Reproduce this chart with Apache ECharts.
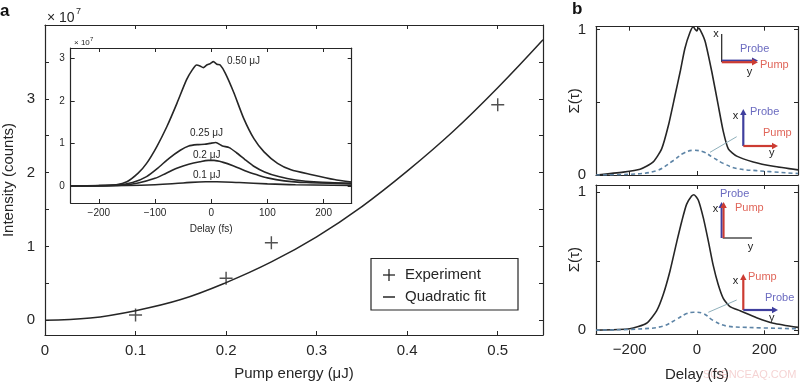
<!DOCTYPE html>
<html><head><meta charset="utf-8">
<script src="https://cdn.jsdelivr.net/npm/echarts@6/dist/echarts.min.js"></script>
<style>html,body{margin:0;padding:0;background:#fff}#c{width:800px;height:384px}</style>
</head><body><div id="c"></div>
<script>
const FONT = "'Liberation Sans', Arial, Helvetica, sans-serif";
const INK = '#262626';

// ---- Panel a: main ----
const fitEnergy = [0, 0.05, 0.1, 0.15, 0.2, 0.25, 0.3, 0.35, 0.4, 0.45, 0.5, 0.55];
const fitIntensity = [0, 0.03, 0.13, 0.28, 0.51, 0.79, 1.13, 1.54, 2.02, 2.55, 3.15, 3.8];
const expEnergy = [0.1, 0.2, 0.25, 0.5];
const expIntensity = [0.07, 0.57, 1.05, 2.92];
const mainXTicks = [0, 0.1, 0.2, 0.3, 0.4, 0.5];
const mainYTicks = [0, 0.5, 1, 1.5, 2, 2.5, 3, 3.5];
const mainYLabels = [0, 1, 2, 3];

// ---- Panel a: inset (delay in fs, intensity x1e7) ----
const d050 = [-250,-200,-169,-150,-130,-115,-97,-79,-61,-44,-34,-26,-20,-14,-8,-2,4,10,16,25,40,58,76,94,118,142,177,219,250];
const v050 = [0,0.01,0.03,0.1,0.3,0.53,0.92,1.39,1.94,2.49,2.72,2.84,2.82,2.78,2.84,2.87,2.92,2.86,2.84,2.65,2.2,1.58,1.11,0.8,0.53,0.38,0.27,0.15,0.09];
const d025 = [-250,-170,-140,-115,-95,-75,-55,-40,-25,-12,-2,8,20,32,45,60,75,95,120,150,190,250];
const v025 = [0,0.02,0.08,0.22,0.42,0.65,0.84,0.94,0.97,0.98,1.0,1.02,0.94,0.9,0.78,0.62,0.47,0.33,0.22,0.14,0.09,0.06];
const d020 = [-250,-160,-130,-100,-80,-60,-40,-20,-5,5,20,40,60,80,100,130,170,250];
const v020 = [0,0.02,0.07,0.18,0.3,0.42,0.51,0.57,0.6,0.6,0.56,0.47,0.36,0.27,0.19,0.12,0.08,0.05];
const d010 = [-250,-150,-100,-50,-10,10,50,100,150,250];
const v010 = [0,0.01,0.03,0.07,0.1,0.1,0.08,0.05,0.03,0.01];
const insetXTicks = [-200, -100, 0, 100, 200];
const insetYTicks = [0, 1, 2, 3];
const insetCurveLabels = ['0.50 μJ', '0.25 μJ', '0.2 μJ', '0.1 μJ'];

// ---- Panel b ----
const bTopDelay = [-300,-219,-169,-130,-105,-85,-65,-50,-36,-21,-11,-5,-1,4,9,24,44,63,78,93,118,167,227,300];
const bTopSigma = [0,0.02,0.04,0.09,0.18,0.34,0.55,0.71,0.87,0.98,1.02,1.0,0.99,1.01,1.0,0.92,0.71,0.48,0.3,0.18,0.13,0.09,0.06,0.035];
const bTopDashDelay = [-300,-200,-120,-70,-40,-11,18,48,78,118,177,300];
const bTopDashSigma = [0,0.005,0.03,0.1,0.15,0.17,0.16,0.12,0.08,0.045,0.03,0.01];
const bBotDelay = [-300,-200,-150,-120,-100,-80,-60,-45,-31,-16,-9,4,19,34,48,63,78,98,128,177,227,300];
const bBotSigma = [0,0.01,0.05,0.14,0.26,0.43,0.64,0.79,0.91,0.97,0.98,0.94,0.81,0.64,0.47,0.33,0.23,0.17,0.14,0.09,0.05,0.02];
const bBotDashDelay = [-300,-160,-100,-60,-31,-9,19,48,88,148,300];
const bBotDashSigma = [0,0.01,0.03,0.08,0.12,0.13,0.12,0.07,0.03,0.02,0.01];
const bXTicks = [-200, 0, 200];
const bYTicks = [0, 0.5, 1];
const bYLabels = [0, 1];

const zip = (a, b) => a.map((v, i) => [v, b[i]]);
const fmt = v => String(+v.toFixed(2)).replace('-', '\u2212');

function axis(grid, min, max, pos, ticks, labels, fs, margin, extra) {
  return Object.assign({
    type: 'value', gridIndex: grid, min: min, max: max, position: pos, nameMoveOverlap: false,
    axisLine: { show: true, onZero: false, lineStyle: { color: INK, width: 1.2 } },
    axisTick: { show: true, inside: true, length: 4, customValues: ticks, lineStyle: { color: INK, width: 1 } },
    axisLabel: { show: labels.length > 0, customValues: labels.length ? labels : ticks, fontSize: fs, margin: margin,
                 color: INK, fontFamily: FONT, formatter: fmt },
    splitLine: { show: false }
  }, extra || {});
}
const nameStyle = fs => ({ fontSize: fs, color: INK, fontFamily: FONT });

const xAxes = [
  axis(0, 0, 0.55, 'bottom', mainXTicks, mainXTicks, 15, 8,
       { name: 'Pump energy (μJ)', nameLocation: 'middle', nameGap: 31, nameTextStyle: nameStyle(15) }),
  axis(0, 0, 0.55, 'top', mainXTicks, []),
  axis(1, -250, 250, 'bottom', insetXTicks, insetXTicks, 10, 5,
       { name: 'Delay (fs)', nameLocation: 'middle', nameGap: 21, nameTextStyle: nameStyle(10) }),
  axis(1, -250, 250, 'top', insetXTicks, []),
  axis(2, -300, 300, 'bottom', bXTicks, []),
  axis(2, -300, 300, 'top', bXTicks, []),
  axis(3, -300, 300, 'bottom', bXTicks, bXTicks, 15, 8,
       { name: 'Delay (fs)', nameLocation: 'middle', nameGap: 33, nameTextStyle: nameStyle(15) }),
  axis(3, -300, 300, 'top', bXTicks, [])
];
const yAxes = [
  axis(0, -0.2, 4, 'left', mainYTicks, mainYLabels, 15, 10,
       { name: 'Intensity (counts)', nameLocation: 'middle', nameGap: 29, nameTextStyle: nameStyle(15) }),
  axis(0, -0.2, 4, 'right', mainYTicks, []),
  axis(1, -0.4, 3.24, 'left', insetYTicks, insetYTicks, 10, 6),
  axis(1, -0.4, 3.24, 'right', insetYTicks, []),
  axis(2, 0, 1.02, 'left', bYTicks, bYLabels, 15, 10,
       { name: 'Σ(τ)', nameLocation: 'middle', nameGap: 14, nameTextStyle: nameStyle(15) }),
  axis(2, 0, 1.02, 'right', bYTicks, []),
  axis(3, -0.03, 1.05, 'left', bYTicks, bYLabels, 15, 10,
       { name: 'Σ(τ)', nameLocation: 'middle', nameGap: 14, nameTextStyle: nameStyle(15) }),
  axis(3, -0.03, 1.05, 'right', bYTicks, [])
];

const CROSS = 'path://M4.45,0H5.55V4.45H10V5.55H5.55V10H4.45V5.55H0V4.45H4.45Z';
const lineSeries = (xi, data, extra) => Object.assign({
  type: 'line', xAxisIndex: xi, yAxisIndex: xi, data: data, showSymbol: false, symbol: 'none',
  lineStyle: { color: INK, width: 1.6 }, silent: true, animation: false
}, extra || {});
const DASH = '#5d84a6';

const series = [
  lineSeries(0, zip(fitEnergy, fitIntensity), { name: 'Quadratic fit', smooth: 0.4, lineStyle: { color: INK, width: 1.5 } }),
  { type: 'scatter', name: 'Experiment', xAxisIndex: 0, yAxisIndex: 0, data: zip(expEnergy, expIntensity),
    symbol: CROSS, symbolSize: 13, itemStyle: { color: INK }, animation: false, silent: true },
  lineSeries(2, zip(d050, v050), { smooth: 0.2 }),
  lineSeries(2, zip(d025, v025), { smooth: 0.2 }),
  lineSeries(2, zip(d020, v020), { smooth: 0.3 }),
  lineSeries(2, zip(d010, v010), { smooth: 0.4 }),
  lineSeries(4, zip(bTopDelay, bTopSigma), { smooth: 0.2 }),
  lineSeries(4, zip(bTopDashDelay, bTopDashSigma), { smooth: 0.4, lineStyle: { color: DASH, width: 1.6, type: [4, 3] } }),
  lineSeries(6, zip(bBotDelay, bBotSigma), { smooth: 0.2 }),
  lineSeries(6, zip(bBotDashDelay, bBotDashSigma), { smooth: 0.4, lineStyle: { color: DASH, width: 1.6, type: [4, 3] } })
];

// --- decorations ---
function txt(x, y, s, fs, color, align, weight) {
  return { type: 'text', x: x, y: y, z: 50, silent: true,
    style: { text: s, fontSize: fs, fontFamily: FONT, fontWeight: weight || 'normal', fill: color,
             align: align || 'left', verticalAlign: 'middle', textAlign: align || 'left', textVerticalAlign: 'middle' } };
}
function seg(x1, y1, x2, y2, color, w) {
  return { type: 'line', z: 50, silent: true, shape: { x1: x1, y1: y1, x2: x2, y2: y2 }, style: { stroke: color, lineWidth: w } };
}
function arrow(x1, y1, x2, y2, color, w) {
  const a = Math.atan2(y2 - y1, x2 - x1), hl = 6, hw = 3.2;
  const bx = x2 - hl * Math.cos(a), by = y2 - hl * Math.sin(a);
  const nx = -Math.sin(a), ny = Math.cos(a);
  return [seg(x1, y1, bx, by, color, w),
    { type: 'polygon', z: 50, silent: true, shape: { points: [[x2, y2], [bx + nx * hw, by + ny * hw], [bx - nx * hw, by - ny * hw]] }, style: { fill: color } }];
}
const RED = '#cc3b32', BLUE = '#3f3f9e', RTXT = '#e0665a', BTXT = '#6b6bc0', CONN = '#8fb0bb';

const graphic = [
  txt(0, 11, 'a', 17, '#111', 'left', 'bold'),
  txt(572, 9, 'b', 17, '#111', 'left', 'bold'),
  txt(47, 18, '× 10', 14, INK), txt(76, 12, '7', 9, INK),
  txt(74, 43, '× 10', 8, INK), txt(90, 39, '7', 6, INK),
  txt(227, 61, insetCurveLabels[0], 10, INK),
  txt(190, 133, insetCurveLabels[1], 10, INK),
  txt(193, 155, insetCurveLabels[2], 10, INK),
  txt(193, 175, insetCurveLabels[3], 10, INK),
  // legend
  { type: 'rect', z: 40, silent: true, shape: { x: 371, y: 258.5, width: 147, height: 51.5 }, style: { fill: '#fff', stroke: INK, lineWidth: 1.2 } },
  seg(383, 275, 395, 275, INK, 1.3), seg(389, 269, 389, 281, INK, 1.3),
  seg(383, 297, 395, 297, INK, 1.5),
  txt(405, 275, 'Experiment', 15, INK),
  txt(405, 297, 'Quadratic fit', 15, INK),
  // panel b top, diagram 1
  seg(721.7, 34, 721.7, 62, '#222', 1.2),
  ...arrow(721.7, 60.6, 758, 60.6, BLUE, 2),
  ...arrow(721.7, 62.2, 758, 62.2, RED, 2.2),
  txt(716, 34, 'x', 11, '#222', 'center'),
  txt(740, 49, 'Probe', 11, BTXT), txt(760, 65, 'Pump', 11, RTXT),
  txt(749.5, 72, 'y', 11, '#222', 'center'),
  // panel b top, diagram 2
  ...arrow(743.3, 146, 743.3, 109, BLUE, 2.2),
  ...arrow(743.3, 146, 778, 146, RED, 2.2),
  txt(735.5, 116, 'x', 11, '#222', 'center'),
  txt(750, 112, 'Probe', 11, BTXT), txt(763, 133, 'Pump', 11, RTXT),
  txt(771.7, 153, 'y', 11, '#222', 'center'),
  seg(736.7, 136.7, 710, 152.3, CONN, 1),
  // panel b bottom, diagram 1
  seg(722.7, 238, 752, 238, '#222', 1.2),
  ...arrow(721.6, 238, 721.6, 202, BLUE, 2),
  ...arrow(723.6, 238, 723.6, 202, RED, 2),
  txt(715.5, 209, 'x', 11, '#222', 'center'),
  txt(720, 194, 'Probe', 11, BTXT), txt(735, 208, 'Pump', 11, RTXT),
  txt(750.5, 247, 'y', 11, '#222', 'center'),
  // panel b bottom, diagram 2
  ...arrow(743.3, 310, 743.3, 274, RED, 2.2),
  ...arrow(743.3, 310, 778, 310, BLUE, 2.2),
  txt(735.5, 281, 'x', 11, '#222', 'center'),
  txt(748, 277, 'Pump', 11, RTXT), txt(765, 298, 'Probe', 11, BTXT),
  txt(771.7, 318, 'y', 11, '#222', 'center'),
  seg(736.7, 300, 708.3, 312.3, CONN, 1),
  // watermark
  { type: 'text', x: 703, y: 375, z: 60, silent: true,
    style: { text: 'SCIENCEAQ.COM', fontSize: 11, fontFamily: FONT, fill: 'rgba(225,130,130,0.35)', verticalAlign: 'middle', textVerticalAlign: 'middle' } }
];

const chart = echarts.init(document.getElementById('c'), null, { renderer: 'canvas' });
chart.setOption({
  backgroundColor: '#fff',
  animation: false,
  textStyle: { fontFamily: FONT },
  grid: [
    { left: 45, top: 25, width: 498, height: 310, outerBoundsMode: 'none' },
    { left: 70.7, top: 48, width: 281, height: 155, show: true, backgroundColor: '#fff', borderWidth: 0, outerBoundsMode: 'none' },
    { left: 596, top: 26.7, width: 202, height: 148.3, outerBoundsMode: 'none' },
    { left: 596, top: 185, width: 202, height: 149.3, outerBoundsMode: 'none' }
  ],
  xAxis: xAxes,
  yAxis: yAxes,
  series: series,
  graphic: graphic
});
</script></body></html>
